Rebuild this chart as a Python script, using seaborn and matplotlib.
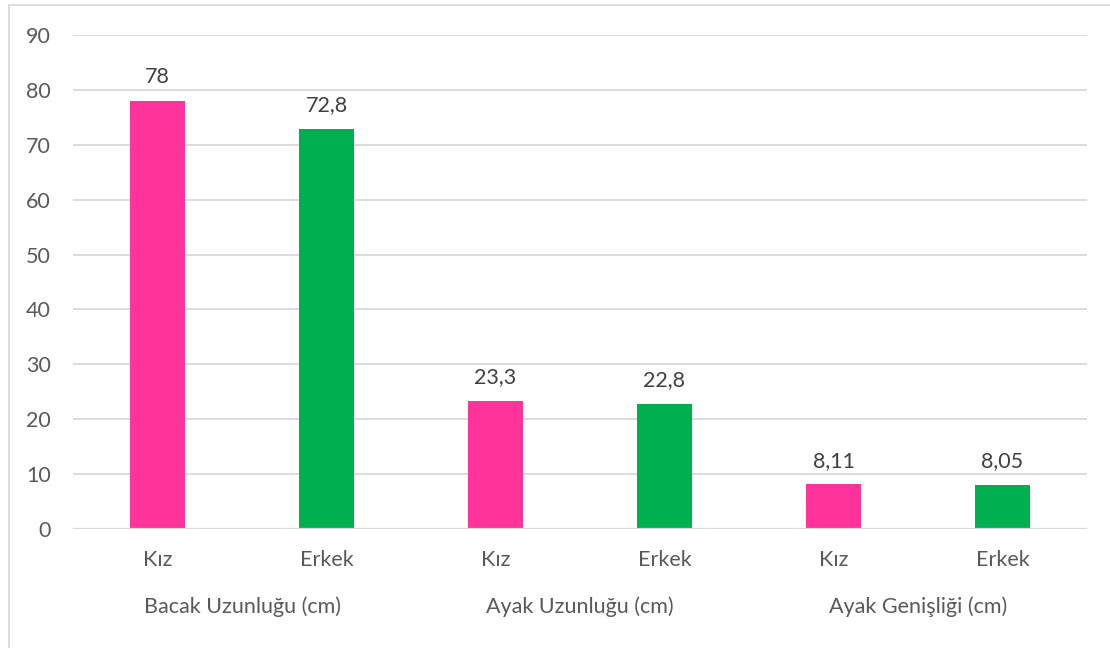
import pandas as pd
import matplotlib
matplotlib.use("Agg")
import matplotlib.pyplot as plt
import matplotlib.transforms as mtransforms
import seaborn as sns

gruplar = ["Bacak Uzunluğu (cm)", "Ayak Uzunluğu (cm)", "Ayak Genişliği (cm)"]
cinsiyet = ["Kız", "Erkek"]
degerler = [78, 72.8, 23.3, 22.8, 8.11, 8.05]
etiketler = ["78", "72,8", "23,3", "22,8", "8,11", "8,05"]

rows = []
i = 0
for g in gruplar:
    for c in cinsiyet:
        rows.append({"grup": g, "cinsiyet": c, "x": g + "|" + c, "deger": degerler[i]})
        i += 1
df = pd.DataFrame(rows)

sns.set_style("white")
plt.rcParams["font.family"] = ["Lato", "DejaVu Sans"]
yazi = "#595959"
fs = 15.5

fig = plt.figure(figsize=(11.1, 6.48), dpi=100)
ax = fig.add_axes([73 / 1110, 1 - 529 / 648, (1087 - 73) / 1110, (529 - 35) / 648])

sns.barplot(data=df, x="x", y="deger", hue="cinsiyet",
            palette={"Kız": "#FF3399", "Erkek": "#00B050"}, saturation=1,
            dodge=False, width=0.32, legend=False, ax=ax, zorder=3, linewidth=0)

ax.set_ylim(0, 90)
ax.set_yticks(range(0, 91, 10))
ax.set_xlim(-0.5, 5.5)
ax.yaxis.grid(True, color="#D9D9D9", lw=1.3, zorder=0)
ax.set_axisbelow(True)
for s in ax.spines.values():
    s.set_visible(False)
ax.axhline(0, color="#D9D9D9", lw=1.6, zorder=4)
ax.set_xlabel("")
ax.set_ylabel("")
ax.tick_params(axis="y", length=0, labelsize=fs, labelcolor=yazi, pad=16)
ax.set_xticks(range(6))
ax.set_xticklabels([])
ax.tick_params(axis="x", length=0)

for p in ax.patches:
    xc = p.get_x() + p.get_width() / 2
    k = int(round(xc))
    ax.annotate(etiketler[k], (xc, p.get_height()),
                xytext=(0, 10), textcoords="offset points", ha="center", va="bottom",
                fontsize=fs, color="#404040")

trans = mtransforms.blended_transform_factory(ax.transData, fig.transFigure)
for k in range(6):
    ax.text(k, 1 - 560 / 648, cinsiyet[k % 2], transform=trans, ha="center", va="center",
            fontsize=fs, color=yazi)
for j, g in enumerate(gruplar):
    ax.text(2 * j + 0.5, 1 - 607 / 648, g, transform=trans, ha="center", va="center",
            fontsize=fs, color=yazi)

# cerceve
fig.add_artist(plt.Line2D([9 / 1110, 9 / 1110], [0, 1 - 5 / 648], color="#D9D9D9", lw=1.3))
fig.add_artist(plt.Line2D([9 / 1110, 1], [1 - 5 / 648, 1 - 5 / 648], color="#D9D9D9", lw=1.3))

fig.savefig("out.png", dpi=100)
